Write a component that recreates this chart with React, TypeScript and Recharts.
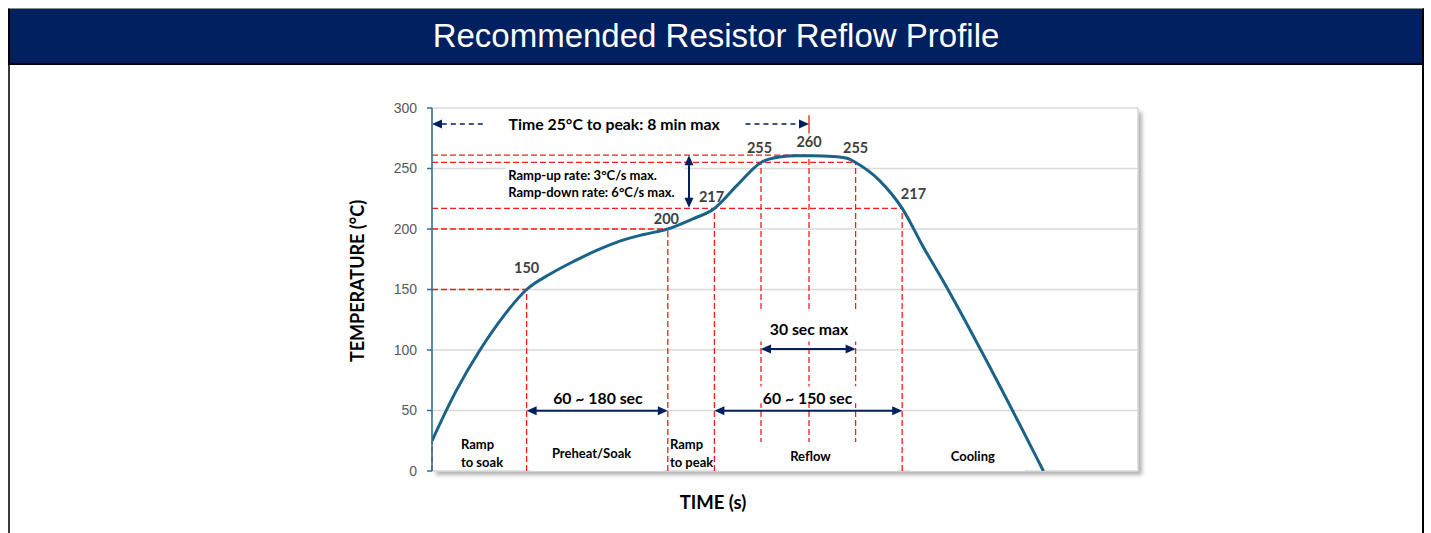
import React from 'react'
import { ComposedChart, Line, XAxis, YAxis, CartesianGrid, ReferenceLine, ReferenceArea, ReferenceDot } from 'recharts'

// reflow curve (x in arbitrary time units, 0..500)
const profileTime = [0, 17, 34, 50, 67, 84, 100, 117, 133, 150, 167, 184, 200, 216, 233, 246, 258, 270, 284, 294, 300, 317, 333, 348, 362, 400, 433]
const profileTemp = [25, 66, 100, 127, 150, 163, 173, 182.5, 190, 195.5, 200, 208, 217, 236, 255, 259.5, 260.5, 260.5, 260, 258.5, 255, 240, 217, 185, 157, 75, 0]

const xTicks = [0, 100, 200, 300, 400, 500]
const yTicks = [0, 50, 100, 150, 200, 250, 300]

// red dashed guides
const hGuideTemp = [150, 200, 217, 255, 261]
const hGuideEnd = [67, 167, 333, 300, 267]
const vGuideTime = [0, 67, 167, 200, 233, 267, 300, 333]
const vGuideTop = [25, 150, 200, 217, 255, 261, 255, 217]

// white text boxes that hide grid / guides behind the notes
const boxX1 = [3, 52, 232, 232, 70, 203, 338]
const boxX2 = [262, 179, 301, 301, 164, 330, 420]
const boxY1 = [279, 220, 107, 56, 0, 0, 0]
const boxY2 = [299, 252, 133, 70, 28, 24, 25]

// point value labels
const valueText = ['150', '200', '217', '255', '260', '255', '217']
const valueTime = [67, 166, 198, 232, 267, 300, 341]
const valueTemp = [168, 209, 226.5, 267, 272, 267, 229]

// bold notes
const noteText = ['Time 25°C to peak: 8 min max', '60 ~ 180 sec', '60 ~ 150 sec', '30 sec max']
const noteTime = [129, 117.5, 266, 267]
const noteTemp = [286.8, 61, 60.5, 118]

const rateText = ['Ramp-up rate: 3°C/s max.', 'Ramp-down rate: 6°C/s max.']
const rateTime = [54, 54]
const rateTemp = [244.6, 230.6]

// zone names at the bottom
const zoneText = ['Ramp', 'to soak', 'Preheat/Soak', 'Ramp', 'to peak', 'Reflow', 'Cooling']
const zoneTime = [20.5, 20.5, 113, 168.5, 168.5, 268, 383]
const zoneTemp = [22.3, 7.4, 14.9, 22.3, 7.4, 12.4, 12.4]
const zoneAnchor = ['start', 'start', 'middle', 'start', 'start', 'middle', 'middle']

// arrows: [x1, y1, x2, y2]
const arrowBoth = [
  [67, 49.8, 167, 49.8],
  [200, 49.8, 333, 49.8],
  [233, 100.8, 300, 100.8],
  [182, 261, 182, 217.5],
]
const arrowDashed = [
  [36, 286.8, 0, 286.8],
  [222, 286.8, 267, 286.8],
]

const NAVY = '#002060'
const RED = '#FF1A1A'
const FONT = 'Lato, "Liberation Sans", sans-serif'

const head = (x: number, y: number, ang: number, len = 10, half = 4.5) => {
  const bx = x - Math.cos(ang) * len
  const by = y - Math.sin(ang) * len
  const nx = -Math.sin(ang) * half
  const ny = Math.cos(ang) * half
  return `${x},${y} ${bx + nx},${by + ny} ${bx - nx},${by - ny}`
}

const arrowShape = (both: boolean, dashed: boolean) => (p: any) => {
  const { x1, y1, x2, y2 } = p
  const ang = Math.atan2(y2 - y1, x2 - x1)
  const len = 10
  const sx = both ? x1 + Math.cos(ang) * len * 0.8 : x1
  const sy = both ? y1 + Math.sin(ang) * len * 0.8 : y1
  const ex = x2 - Math.cos(ang) * len * 0.8
  const ey = y2 - Math.sin(ang) * len * 0.8
  return (
    <g>
      <line x1={sx} y1={sy} x2={ex} y2={ey} stroke={NAVY} strokeWidth={dashed ? 1.5 : 2} strokeDasharray={dashed ? '5 4' : undefined} />
      <polygon points={head(x2, y2, ang)} fill={NAVY} />
      {both && <polygon points={head(x1, y1, ang + Math.PI)} fill={NAVY} />}
    </g>
  )
}

const textShape = (value: string, size: number, color: string, anchor = 'middle') => (p: any) => (
  <text x={p.cx} y={p.cy} textAnchor={anchor} dominantBaseline="central" fontFamily={FONT} fontWeight={700} fontSize={size} fill={color}>
    {value}
  </text>
)

export default function App() {
  const data = profileTime.map((t, i) => ({ time: t, temp: profileTemp[i] }))

  return (
    <div style={{ position: 'fixed', left: 0, top: 0, width: 1431, height: 533, overflow: 'hidden', background: '#fff' }}>
      <div style={{ position: 'absolute', left: 8, top: 8, width: 1416, height: 540, boxSizing: 'border-box', borderTop: '1px solid #8c8c8c', borderLeft: '2px solid #3a3a3a', borderRight: '2px solid #000' }} />
      <div
        style={{
          position: 'absolute', left: 8, top: 9, width: 1416, height: 56, boxSizing: 'border-box',
          background: NAVY, borderLeft: '2px solid #000', borderRight: '2px solid #000', borderBottom: '2px solid #000',
          color: '#fff', fontFamily: '"Liberation Sans", Arial, sans-serif', fontSize: 33,
          display: 'flex', alignItems: 'center', justifyContent: 'center', whiteSpace: 'nowrap',
        }}
      >
        Recommended Resistor Reflow Profile
      </div>
      {/* plot area frame with shadow */}
      <div style={{ position: 'absolute', left: 432, top: 108, width: 706, height: 363, background: '#fff', boxShadow: '4px 4px 4px rgba(0,0,0,0.3)' }} />
      <div
        style={{
          position: 'absolute', left: 357, top: 281, transform: 'translate(-50%, -50%) rotate(-90deg)',
          whiteSpace: 'nowrap', fontFamily: FONT, fontWeight: 700, fontSize: 18, color: '#000',
        }}
      >
        TEMPERATURE (°C)
      </div>
      <div
        style={{
          position: 'absolute', left: 713, top: 502, transform: 'translate(-50%, -50%)',
          whiteSpace: 'nowrap', fontFamily: FONT, fontWeight: 700, fontSize: 18.5, color: '#000',
        }}
      >
        TIME (s)
      </div>

      <div style={{ position: 'absolute', left: 0, top: 0 }}>
        <ComposedChart width={1431} height={533} data={data} margin={{ top: 108, right: 293, bottom: 62, left: 372 }}>
          <CartesianGrid stroke="#d9d9d9" strokeWidth={1.5} />
          <XAxis type="number" dataKey="time" domain={[0, 500]} ticks={xTicks} tick={false} axisLine={false} tickLine={false} height={0} allowDataOverflow />
          <YAxis
            type="number"
            domain={[0, 300]}
            ticks={yTicks}
            width={60}
            axisLine={{ stroke: '#2A6F97', strokeWidth: 1.5 }}
            tickLine={{ stroke: '#2A6F97', strokeWidth: 1.5 }}
            tickSize={5}
            tickMargin={10}
            tick={{ fill: '#595959', fontSize: 14, fontFamily: '"Liberation Sans", Arial, sans-serif' }}
            allowDataOverflow
          />

          {hGuideTemp.map((t, i) => (
            <ReferenceLine key={`h${i}`} segment={[{ x: 0, y: t }, { x: hGuideEnd[i], y: t }]} stroke={RED} strokeWidth={1.3} strokeDasharray="6 3" ifOverflow="visible" zIndex={50} />
          ))}
          {vGuideTime.map((x, i) => (
            <ReferenceLine key={`v${i}`} segment={[{ x, y: 0 }, { x, y: vGuideTop[i] }]} stroke={RED} strokeWidth={1.3} strokeDasharray="6 3" ifOverflow="visible" zIndex={50} />
          ))}
          <ReferenceLine segment={[{ x: 267, y: 294 }, { x: 267, y: 279 }]} stroke={RED} strokeWidth={1.3} ifOverflow="visible" zIndex={50} />

          {boxX1.map((x1, i) => (
            <ReferenceArea key={`b${i}`} x1={x1} x2={boxX2[i]} y1={boxY1[i]} y2={boxY2[i]} fill="#fff" fillOpacity={1} stroke="none" ifOverflow="visible" zIndex={60} />
          ))}

          <Line type="monotone" dataKey="temp" stroke="#1B6287" strokeWidth={3} dot={false} activeDot={false} isAnimationActive={false} zIndex={400} />

          {arrowBoth.map((a, i) => (
            <ReferenceLine key={`a${i}`} segment={[{ x: a[0], y: a[1] }, { x: a[2], y: a[3] }]} shape={arrowShape(true, false)} ifOverflow="visible" zIndex={450} />
          ))}
          {arrowDashed.map((a, i) => (
            <ReferenceLine key={`d${i}`} segment={[{ x: a[0], y: a[1] }, { x: a[2], y: a[3] }]} shape={arrowShape(false, true)} ifOverflow="visible" zIndex={450} />
          ))}

          {valueText.map((v, i) => (
            <ReferenceDot key={`vl${i}`} x={valueTime[i]} y={valueTemp[i]} r={0} shape={textShape(v, 14.5, '#404040')} ifOverflow="visible" zIndex={700} />
          ))}
          {noteText.map((v, i) => (
            <ReferenceDot key={`n${i}`} x={noteTime[i]} y={noteTemp[i]} r={0} shape={textShape(v, 15.8, '#000')} ifOverflow="visible" zIndex={700} />
          ))}
          {rateText.map((v, i) => (
            <ReferenceDot key={`r${i}`} x={rateTime[i]} y={rateTemp[i]} r={0} shape={textShape(v, 13, '#000', 'start')} ifOverflow="visible" zIndex={700} />
          ))}
          {zoneText.map((v, i) => (
            <ReferenceDot key={`z${i}`} x={zoneTime[i]} y={zoneTemp[i]} r={0} shape={textShape(v, 13, '#000', zoneAnchor[i])} ifOverflow="visible" zIndex={700} />
          ))}
        </ComposedChart>
      </div>
    </div>
  )
}
